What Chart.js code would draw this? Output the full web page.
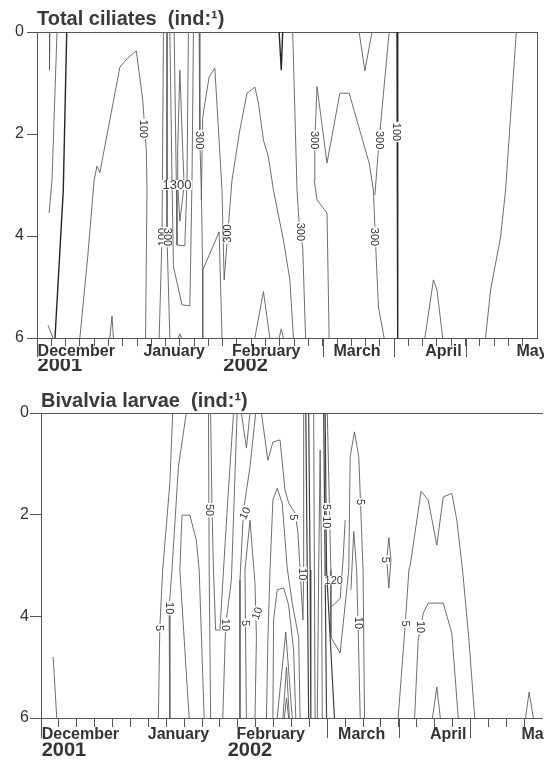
<!DOCTYPE html>
<html><head><meta charset="utf-8">
<script src="https://cdn.jsdelivr.net/npm/chart.js@4.4.1/dist/chart.umd.min.js"></script>
<style>
html,body{margin:0;padding:0;background:#fff;overflow:hidden;width:544px;height:760px}
canvas{position:absolute;left:0}
#c1{top:0}#c2{top:380px}
</style></head><body>
<canvas id="c1" width="544" height="380"></canvas>
<canvas id="c2" width="544" height="380"></canvas>
<script>
// ---------- axis values (x: months from left edge, y: depth m) ----------
const months = ['December','January','February','March','April','May'];
const monthLabelAt = [0.55,1.92,3.21,4.48,5.69,6.93];
const years = ['2001','2002'];
const yearLabelAt = [0.32,2.92];
const depthTicks = [0,2,4,6];
const monthBoundaryTicks = [0,4,5,6];

// ---------- Total ciliates contour lines [month, depth] ----------
const cilA = [[0.18,0],[0.175,0.75]];
const cilB = [[0.28,0],[0.21,2.9],[0.17,3.55]];
const cilC = [[0.416,0],[0.368,3.1],[0.252,6]];
const cilD = [[0.154,5.75],[0.224,6]];
const cil100a = [[0.60,6],[0.71,4.41],[0.80,2.90],[0.84,2.63],[0.88,2.76],[1.16,0.69],[1.27,0.51],[1.39,0.37],[1.48,1.33],[1.53,2.31],[1.54,3.10],[1.53,4.47],[1.52,6]];
const cilF = [[1.02,6],[1.05,5.57],[1.07,6]];
const cil100b = [[1.77,0],[1.75,4.02],[1.71,6]];
const cil300a = [[1.82,0],[1.82,4.02],[1.86,6]];
const cilU1 = [[1.86,0],[1.89,2.9],[1.91,4.6],[2.03,5.35],[2.14,5.37],[2.17,2.9],[2.19,0]];
const cilU2 = [[1.92,0],[1.95,2.9],[1.96,4.18],[2.07,4.19],[2.10,2.9],[2.12,0]];
const cil1300 = [[2.0,0.75],[2.04,2.31],[2.06,3.0],[2.0,3.71],[1.97,3.0],[1.97,2.31],[2.0,0.75]];
const cilL = [[1.98,6],[2.0,5.92],[2.02,6]];
const cil300b = [[2.27,0],[2.28,2.12],[2.30,3.1],[2.32,4.67],[2.32,6]];
const cil300c = [[2.30,3.29],[2.32,1.67],[2.41,0.88],[2.49,0.71],[2.59,3.1],[2.62,4.86],[2.73,2.9],[2.84,1.92],[2.94,1.2],[3.05,1.08],[3.10,1.39],[3.17,2.12],[3.24,2.45],[3.31,3.1],[3.45,4.08],[3.54,4.86],[3.59,6]];
const cilO = [[2.32,4.67],[2.55,3.92],[2.59,6]];
const cilS = [[3.05,6],[3.17,5.09],[3.26,6]];
const cilQ = [[3.39,0],[3.42,0.75],[3.44,0]];
const cilR = [[3.39,6],[3.42,5.82],[3.45,6]];
const cil300d = [[3.58,0],[3.64,3.1],[3.67,3.75],[3.72,4.22],[3.76,6]];
const cil300e = [[4.09,6],[4.06,3.55],[3.92,3.29],[3.88,2.9],[3.89,2.12],[3.92,1.07],[4.06,2.57],[4.24,1.2],[4.37,1.2],[4.65,2.57],[4.71,3.1],[4.73,3.82],[4.78,5.39],[4.86,6]];
const cil300f = [[4.93,0],[4.79,2.12],[4.73,3.2]];
const cilV = [[4.51,0],[4.59,0.76],[4.69,0]];
const cil100c = [[5.04,0],[5.05,6]];
const cilY = [[5.43,6],[5.55,4.86],[5.60,5.06],[5.68,6]];
const cilX = [[6.71,0],[6.56,3.1],[6.49,4.02],[6.35,5.06],[6.28,6]];
const ciliateLines = [cilA,cilB,cilC,cilD,cil100a,cilF,cil100b,cil300a,cilU1,cilU2,cil1300,cilL,cil300b,cil300c,cilO,cilS,cilQ,cilR,cil300d,cil300e,cil300f,cilV,cil100c,cilY,cilX];
const ciliateDarkLines = [cilC,cilQ,cil100c];

const ciliateLabelText = ['100','300','1300','100','300','300','300','300','300','100','300'];
const ciliateLabelX = [1.49,2.28,1.96,1.75,1.83,2.67,3.69,3.89,4.79,5.04,4.73];
const ciliateLabelY = [1.90,2.12,3.0,4.02,4.02,3.95,3.92,2.12,2.12,1.96,4.02];
const ciliateLabelAngle = [90,90,0,-90,90,-90,90,90,90,90,90];

// ---------- Bivalvia larvae contour lines [month, depth] ----------
const bivL = [[0.17,4.8],[0.22,6]];
const biv5a = [[1.84,0],[1.80,1.38],[1.70,3.09],[1.66,4.23],[1.64,6]];
const biv10a = [[2.03,0],[1.92,1.06],[1.83,3.09],[1.79,3.84],[1.80,6]];
const bivC = [[2.07,6],[1.94,3.09],[1.97,2.01],[2.08,2.01],[2.17,2.5],[2.21,3.09],[2.28,6]];
const biv50a = [[2.34,0],[2.35,3.09],[2.37,6]];
const bivU = [[2.37,0],[2.39,1.91],[2.41,3.09],[2.44,4.27],[2.50,4.27],[2.55,3.09],[2.61,1.71],[2.69,0]];
const biv10b = [[2.74,0],[2.66,3.29],[2.58,4.17],[2.54,6]];
const bivV = [[2.80,0],[2.87,0.69],[2.92,0]];
const biv10c = [[3.0,0],[2.92,1.06],[2.83,1.91],[2.78,3.29],[2.78,6]];
const biv5b = [[2.87,6],[2.85,3.09],[2.92,2.11],[2.99,3.35],[3.01,4.41],[2.99,6]];
const biv5c = [[3.08,0],[3.17,0.93],[3.24,0.57],[3.34,0.53],[3.41,1.52],[3.46,1.77],[3.55,1.97],[3.59,2.36],[3.62,3.09],[3.66,4.07],[3.67,3.09],[3.67,0]];
const bivArch1 = [[3.15,6],[3.17,4.47],[3.20,3.09],[3.24,1.71],[3.30,1.48],[3.37,1.77],[3.44,3.05],[3.51,3.74],[3.60,4.41],[3.62,6]];
const bivArch2 = [[3.24,6],[3.25,4.07],[3.30,3.48],[3.39,3.44],[3.46,3.78],[3.53,4.67],[3.56,6]];
const bivArch3 = [[3.30,6],[3.42,4.31],[3.51,6]];
const bivArch4 = [[3.38,6],[3.43,5.0],[3.47,6]];
const bivArch5 = [[3.40,6],[3.43,5.61],[3.46,6]];
const bivT2 = [[3.70,0],[3.72,3.09],[3.74,6]];
const bivT3 = [[3.74,0],[3.76,3.09],[3.77,6]];
const bivT4 = [[3.81,0],[3.82,3.09],[3.83,6]];
const bivT5 = [[3.86,6],[3.88,3.09],[3.90,0.73],[3.92,3.09],[3.93,6]];
const bivT6 = [[3.95,0],[3.97,3.09],[3.99,6]];
const bivT7 = [[3.97,0],[3.99,3.09],[4.10,6]];
const bivT8 = [[4.0,0],[4.05,3.09],[4.05,4.41],[4.18,4.72],[4.30,3.09],[4.32,0.86],[4.38,0.37],[4.44,0.86],[4.50,3.09],[4.52,6]];
const bivT9 = [[4.06,3.81],[4.18,3.65],[4.22,2.89],[4.25,2.11]];
const bivT10 = [[4.33,3.48],[4.37,2.33],[4.41,3.09],[4.43,4.13],[4.46,6]];
const bivLoop = [[4.86,2.45],[4.89,2.89],[4.86,3.44],[4.83,2.89],[4.86,2.45]];
const biv5d = [[4.99,6],[5.09,4.14],[5.14,3.09],[5.16,2.99],[5.31,1.54],[5.41,1.71],[5.53,2.6],[5.62,1.65],[5.74,1.58],[5.81,2.11],[5.89,3.09],[5.98,4.47],[6.06,6]];
const biv10d = [[5.22,6],[5.27,4.47],[5.34,3.94],[5.41,3.74],[5.62,3.74],[5.74,4.33],[5.83,6]];
const bivM = [[5.47,6],[5.53,5.39],[5.58,6]];
const bivN = [[6.77,6],[6.82,5.49],[6.88,6]];
const bivalviaLines = [bivL,biv5a,biv10a,bivC,biv50a,bivU,biv10b,bivV,biv10c,biv5b,biv5c,bivArch1,bivArch2,bivArch3,bivArch4,bivArch5,bivT2,bivT3,bivT4,bivT5,bivT6,bivT7,bivT8,bivT9,bivT10,bivLoop,biv5d,biv10d,bivM,bivN];
const bivalviaDarkLines = [];
const bivalviaMidLines = [bivT2,bivT3,bivT6,bivT7];

const bivalviaLabelText = ['5','10','50','10','5','10','5','10','10','5','10','120','5','10','5','5','10'];
const bivalviaLabelX = [1.66,1.79,2.36,2.85,3.53,2.58,2.86,3.02,3.66,3.99,3.99,4.09,4.46,4.43,4.81,5.09,5.30];
const bivalviaLabelY = [4.23,3.84,1.91,1.97,2.05,4.17,4.13,3.94,3.17,1.85,2.15,3.29,1.75,4.13,2.89,4.14,4.21];
const bivalviaLabelAngle = [90,90,90,-65,90,90,90,-70,90,90,90,0,90,90,90,90,90];

// ---------- rendering ----------
const FONT = '"Liberation Sans", Arial, Helvetica, sans-serif';
Chart.defaults.font.family = FONT;
const AXIS = '#555';

const contourLabels = {
  id: 'contourLabels',
  afterDatasetsDraw(chart, args, o) {
    const ctx = chart.ctx, xs = chart.scales.x, ys = chart.scales.y;
    ctx.save();
    o.text.forEach((t, i) => {
      const size = t.length > 3 ? 13 : 11;
      ctx.font = size + 'px ' + FONT;
      const px = xs.getPixelForValue(o.x[i]), py = ys.getPixelForValue(o.y[i]);
      ctx.save();
      ctx.translate(px, py);
      ctx.rotate(o.angle[i] * Math.PI / 180);
      const w = ctx.measureText(t).width;
      ctx.fillStyle = '#fff';
      ctx.fillRect(-w / 2 - 1, -size * 0.38, w + 2, size * 0.76);
      ctx.fillStyle = '#333';
      ctx.textAlign = 'center';
      ctx.textBaseline = 'middle';
      ctx.fillText(t, 0, 0.5);
      ctx.restore();
    });
    ctx.restore();
  }
};
const longTicks = {
  id: 'longTicks',
  afterDraw(chart, args, o) {
    const ctx = chart.ctx, xs = chart.scales.x, b = chart.chartArea.bottom;
    ctx.save();
    ctx.strokeStyle = AXIS; ctx.lineWidth = 1;
    o.values.forEach(v => {
      const px = Math.round(xs.getPixelForValue(v)) + 0.5;
      ctx.beginPath(); ctx.moveTo(px, b); ctx.lineTo(px, b + o.length); ctx.stroke();
    });
    ctx.restore();
  }
};

function fixH(h) {
  return s => { s.height = h; s.paddingLeft = 0; s.paddingRight = 0; s.paddingTop = 0; s.paddingBottom = 0; };
}
function fixW(w) {
  return s => { s.width = w; s.paddingLeft = 0; s.paddingRight = 0; s.paddingTop = 0; s.paddingBottom = 0; };
}

function buildPanel(id, p) {
  const minor = [];
  for (let k = 1; k * p.minorStep < 7 - 1e-6; k++) minor.push(+(k * p.minorStep).toFixed(3));
  const datasets = p.lines.map(line => {
    const dark = p.dark.includes(line);
    const mid = (p.mid || []).includes(line);
    return {
      data: line.map(q => ({ x: q[0], y: q[1] })),
      showLine: true, pointRadius: 0, tension: 0, fill: false,
      borderColor: dark ? '#262626' : (mid ? '#404040' : '#5e5e5e'),
      borderWidth: dark ? 1.4 : (mid ? 1.2 : 0.9)
    };
  });
  const hAxis = (extra) => Object.assign({ type: 'linear', min: 0, max: 7 }, extra);
  const scales = {
    x: hAxis({ position: 'bottom', weight: 0,
      afterBuildTicks: a => { a.ticks = minor.map(v => ({ value: v })); },
      ticks: { display: false },
      grid: { drawOnChartArea: false, tickLength: p.minorLen, color: AXIS, tickColor: AXIS },
      border: { display: true, color: AXIS, width: 1 },
      afterFit: fixH(0) }),
    xm: hAxis({ position: 'bottom', weight: 1,
      afterBuildTicks: a => { a.ticks = monthLabelAt.map(v => ({ value: v })); },
      ticks: { autoSkip: false, maxRotation: 0, minRotation: 0, padding: p.monthPad, color: '#333',
        font: { size: 16, weight: 'bold' }, callback: (v, i) => months[i] },
      grid: { display: false, drawTicks: false }, border: { display: false },
      afterFit: fixH(p.monthH) }),
    xy: hAxis({ position: 'bottom', weight: 2,
      afterBuildTicks: a => { a.ticks = yearLabelAt.map(v => ({ value: v })); },
      ticks: { autoSkip: false, maxRotation: 0, minRotation: 0, padding: p.yearPad, color: '#333',
        font: { size: 20, weight: 'bold' }, callback: (v, i) => years[i] },
      grid: { display: false, drawTicks: false }, border: { display: false },
      afterFit: fixH(42 - p.monthH) }),
    xt: hAxis({ position: 'top',
      ticks: { display: false },
      grid: { display: true, drawOnChartArea: false, drawTicks: false },
      border: { display: true, color: AXIS, width: 1 },
      afterFit: fixH(0) }),
    y: { type: 'linear', position: 'left', reverse: true, min: 0, max: 6,
      afterBuildTicks: a => { a.ticks = depthTicks.map(v => ({ value: v })); },
      ticks: { padding: p.yPad, color: '#333', font: { size: 16 } },
      grid: { drawOnChartArea: false, tickLength: p.yTickLen, color: AXIS, tickColor: AXIS },
      border: { display: true, color: AXIS, width: 1 },
      afterFit: fixW(p.yWidth) }
  };
  if (p.rightFrame) {
    scales.yr = { type: 'linear', position: 'right', min: 0, max: 6,
      ticks: { display: false },
      grid: { display: true, drawOnChartArea: false, drawTicks: false },
      border: { display: true, color: AXIS, width: 1 },
      afterFit: fixW(0) };
  }
  new Chart(document.getElementById(id), {
    type: 'scatter',
    data: { datasets },
    plugins: [contourLabels, longTicks],
    options: {
      responsive: false, animation: false, events: [],
      layout: { autoPadding: false, padding: { left: 0, right: p.rightPad, top: 0, bottom: 0 } },
      scales,
      plugins: {
        legend: { display: false }, tooltip: { enabled: false },
        title: { display: true, text: p.title, align: 'start', fullSize: false, color: '#3a3a3a',
          font: { size: 20, weight: 'bold', lineHeight: 1.2 }, padding: p.titlePad },
        contourLabels: p.labels,
        longTicks: { values: monthBoundaryTicks, length: p.longLen }
      }
    }
  });
}

buildPanel('c1', {
  title: 'Total ciliates  (ind:\u00B9)',
  lines: ciliateLines, dark: ciliateDarkLines,
  labels: { text: ciliateLabelText, x: ciliateLabelX, y: ciliateLabelY, angle: ciliateLabelAngle },
  minorStep: 0.2, minorLen: 8, longLen: 19,
  monthH: 21, monthPad: 4, yearPad: -5.5,
  yWidth: 37, yTickLen: 10, yPad: 3,
  rightPad: 7, rightFrame: true,
  titlePad: { top: 7, bottom: 1 }
});
buildPanel('c2', {
  title: 'Bivalvia larvae  (ind:\u00B9)',
  lines: bivalviaLines, dark: bivalviaDarkLines, mid: bivalviaMidLines,
  labels: { text: bivalviaLabelText, x: bivalviaLabelX, y: bivalviaLabelY, angle: bivalviaLabelAngle },
  minorStep: 0.25, minorLen: 9, longLen: 20,
  monthH: 24.5, monthPad: 7, yearPad: -4.5,
  yWidth: 41, yTickLen: 11, yPad: 1,
  rightPad: 2, rightFrame: false,
  titlePad: { top: 9, bottom: 0 }
});
</script>
</body></html>
